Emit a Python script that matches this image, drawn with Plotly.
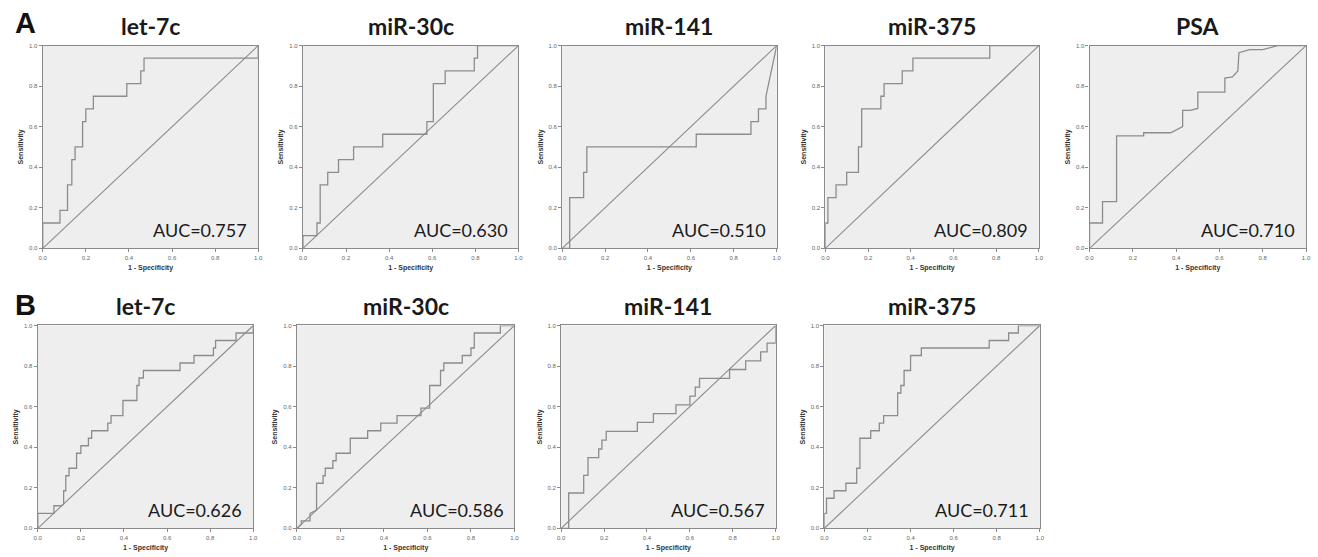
import plotly.graph_objects as go

# ---------------- data ----------------
panel_titles = ["let-7c", "miR-30c", "miR-141", "miR-375", "PSA",
                "let-7c", "miR-30c", "miR-141", "miR-375"]
auc_labels = ["AUC=0.757", "AUC=0.630", "AUC=0.510", "AUC=0.809", "AUC=0.710",
              "AUC=0.626", "AUC=0.586", "AUC=0.567", "AUC=0.711"]
row_letters = ["A", "B"]
tick_values = [0.0, 0.2, 0.4, 0.6, 0.8, 1.0]
tick_labels = ["0.0", "0.2", "0.4", "0.6", "0.8", "1.0"]
reference_line = [0.0, 1.0]

a_let7c_fpr = [0, 0, 0.08, 0.08, 0.115, 0.115, 0.135, 0.135, 0.15, 0.15, 0.185, 0.185,
               0.2, 0.2, 0.235, 0.235, 0.39, 0.39, 0.455, 0.455, 0.47, 0.47, 1.0, 1.0]
a_let7c_tpr = [0, 0.125, 0.125, 0.1875, 0.1875, 0.3125, 0.3125, 0.4375, 0.4375, 0.5, 0.5, 0.625,
               0.625, 0.6875, 0.6875, 0.75, 0.75, 0.8125, 0.8125, 0.875, 0.875, 0.9375, 0.9375, 1.0]

a_mir30c_fpr = [0, 0, 0.065, 0.065, 0.08, 0.08, 0.115, 0.115, 0.165, 0.165, 0.235, 0.235, 0.37,
                0.37, 0.575, 0.575, 0.605, 0.605, 0.66, 0.66, 0.795, 0.795, 0.81, 0.81, 1.0]
a_mir30c_tpr = [0, 0.0625, 0.0625, 0.125, 0.125, 0.3125, 0.3125, 0.375, 0.375, 0.4375, 0.4375, 0.5, 0.5,
                0.5625, 0.5625, 0.625, 0.625, 0.8125, 0.8125, 0.875, 0.875, 0.9375, 0.9375, 1.0, 1.0]

a_mir141_fpr = [0, 0.035, 0.035, 0.1, 0.1, 0.115, 0.115, 0.625, 0.625, 0.88, 0.88, 0.915, 0.915,
                0.95, 0.95, 1.0]
a_mir141_tpr = [0, 0, 0.25, 0.25, 0.375, 0.375, 0.5, 0.5, 0.5625, 0.5625, 0.625, 0.625, 0.6875,
                0.6875, 0.75, 1.0]

a_mir375_fpr = [0, 0, 0.012, 0.012, 0.05, 0.05, 0.1, 0.1, 0.155, 0.155, 0.17, 0.17, 0.26, 0.26,
                0.275, 0.275, 0.36, 0.36, 0.41, 0.41, 0.77, 0.77, 1.0]
a_mir375_tpr = [0, 0.125, 0.125, 0.25, 0.25, 0.3125, 0.3125, 0.375, 0.375, 0.5, 0.5, 0.6875, 0.6875,
                0.75, 0.75, 0.8125, 0.8125, 0.875, 0.875, 0.9375, 0.9375, 1.0, 1.0]

a_psa_fpr = [0, 0, 0.06, 0.06, 0.125, 0.125, 0.25, 0.25, 0.375, 0.43, 0.43, 0.465, 0.5, 0.5,
             0.625, 0.625, 0.66, 0.685, 0.69, 0.74, 0.8, 0.87, 1.0]
a_psa_tpr = [0, 0.125, 0.125, 0.23, 0.23, 0.555, 0.555, 0.57, 0.57, 0.6, 0.68, 0.68, 0.69, 0.77,
             0.77, 0.84, 0.845, 0.875, 0.965, 0.98, 0.98, 1.0, 1.0]

b_let7c_fpr = [0, 0, 0.075, 0.075, 0.11, 0.12, 0.12, 0.13, 0.13, 0.145, 0.145, 0.18, 0.18, 0.2, 0.2,
               0.235, 0.235, 0.25, 0.25, 0.325, 0.325, 0.34, 0.34, 0.395, 0.395, 0.46, 0.46, 0.47,
               0.47, 0.49, 0.49, 0.66, 0.66, 0.725, 0.725, 0.815, 0.815, 0.825, 0.825, 0.92, 0.92,
               1.0, 1.0]
b_let7c_tpr = [0, 0.074, 0.074, 0.111, 0.111, 0.12, 0.185, 0.185, 0.259, 0.259, 0.296, 0.296, 0.37,
               0.37, 0.407, 0.407, 0.444, 0.444, 0.481, 0.481, 0.519, 0.519, 0.556, 0.556, 0.63,
               0.63, 0.704, 0.704, 0.741, 0.741, 0.778, 0.778, 0.815, 0.815, 0.852, 0.852, 0.889,
               0.889, 0.926, 0.926, 0.963, 0.963, 1.0]

b_mir30c_fpr = [0, 0.02, 0.02, 0.06, 0.06, 0.09, 0.09, 0.12, 0.12, 0.13, 0.13, 0.165, 0.165, 0.18,
                0.18, 0.245, 0.245, 0.325, 0.325, 0.385, 0.385, 0.46, 0.46, 0.57, 0.57, 0.61, 0.61,
                0.66, 0.66, 0.675, 0.675, 0.76, 0.76, 0.8, 0.8, 0.815, 0.815, 0.935, 0.935, 1.0]
b_mir30c_tpr = [0, 0.02, 0.037, 0.037, 0.074, 0.09, 0.222, 0.222, 0.259, 0.259, 0.296, 0.296, 0.333,
                0.333, 0.37, 0.37, 0.444, 0.444, 0.481, 0.481, 0.519, 0.519, 0.556, 0.556, 0.593,
                0.593, 0.704, 0.704, 0.778, 0.778, 0.815, 0.815, 0.852, 0.852, 0.889, 0.889, 0.963,
                0.963, 1.0, 1.0]

b_mir141_fpr = [0, 0.035, 0.035, 0.105, 0.105, 0.125, 0.125, 0.175, 0.175, 0.19, 0.19, 0.21, 0.21,
                0.355, 0.355, 0.43, 0.43, 0.535, 0.535, 0.6, 0.6, 0.625, 0.625, 0.645, 0.645, 0.785,
                0.785, 0.86, 0.86, 0.93, 0.93, 0.96, 0.96, 1.0, 1.0]
b_mir141_tpr = [0, 0, 0.174, 0.174, 0.261, 0.261, 0.348, 0.348, 0.391, 0.391, 0.435, 0.435, 0.478,
                0.478, 0.522, 0.522, 0.565, 0.565, 0.609, 0.609, 0.652, 0.652, 0.696, 0.696, 0.739,
                0.739, 0.783, 0.783, 0.826, 0.826, 0.87, 0.87, 0.913, 0.913, 1.0]

b_mir375_fpr = [0, 0, 0.01, 0.01, 0.045, 0.045, 0.1, 0.1, 0.15, 0.15, 0.165, 0.165, 0.215, 0.215,
                0.255, 0.255, 0.275, 0.275, 0.34, 0.34, 0.355, 0.355, 0.37, 0.37, 0.4, 0.4, 0.45,
                0.45, 0.765, 0.765, 0.855, 0.855, 0.9, 0.9, 1.0]
b_mir375_tpr = [0, 0.074, 0.074, 0.148, 0.148, 0.185, 0.185, 0.222, 0.222, 0.296, 0.296, 0.444,
                0.444, 0.481, 0.481, 0.519, 0.519, 0.556, 0.556, 0.667, 0.667, 0.704, 0.704, 0.778,
                0.778, 0.852, 0.852, 0.889, 0.889, 0.926, 0.926, 0.963, 0.963, 1.0, 1.0]

curves = [
    (a_let7c_fpr, a_let7c_tpr), (a_mir30c_fpr, a_mir30c_tpr), (a_mir141_fpr, a_mir141_tpr),
    (a_mir375_fpr, a_mir375_tpr), (a_psa_fpr, a_psa_tpr),
    (b_let7c_fpr, b_let7c_tpr), (b_mir30c_fpr, b_mir30c_tpr), (b_mir141_fpr, b_mir141_tpr),
    (b_mir375_fpr, b_mir375_tpr),
]

# ---------------- layout (pixel boxes of each plot area) ----------------
W, H = 1318, 557
boxes = [  # left, right, top, bottom
    (39, 256, 43, 248), (301, 518, 43, 248), (562, 778, 43, 248), (827, 1042, 43, 248),
    (1093, 1311, 43, 248),
    (34, 251, 326, 531), (295, 514, 326, 531), (561, 777, 326, 531), (826, 1043, 326, 531),
]

def px(x):
    return x / W

def py(y):
    return 1 - y / H

LINE = "#8c8c8c"
FRAME = "#8a8a8a"
BG = "#eeeeee"

fig = go.Figure()
layout = dict(
    width=W, height=H, margin=dict(l=0, r=0, t=0, b=0),
    paper_bgcolor="white", plot_bgcolor=BG, showlegend=False,
)
annotations = []

for i, ((fpr, tpr), (l, r, t, b)) in enumerate(zip(curves, boxes)):
    n = "" if i == 0 else str(i + 1)
    xa, ya = "x" + n, "y" + n
    axis_common = dict(
        range=[0, 1], showgrid=False, zeroline=False, showline=True, mirror=True,
        linecolor=FRAME, linewidth=1.2, ticks="outside", ticklen=3, tickcolor=FRAME,
        tickvals=tick_values, ticktext=tick_labels,
        tickfont=dict(family="Liberation Sans", size=6, color="#666666"),
        fixedrange=True,
    )
    layout["xaxis" + n] = dict(
        axis_common, domain=[px(l), px(r)], anchor=ya,
        title=dict(text="<b>1 - Specificity</b>", standoff=5,
                   font=dict(family="Liberation Sans", size=7, color="#333333")),
    )
    layout["yaxis" + n] = dict(
        axis_common, domain=[py(b), py(t)], anchor=xa,
        title=dict(text="<b>Sensitivity</b>", standoff=4,
                   font=dict(family="Liberation Sans", size=7, color="#333333")),
    )
    # diagonal reference line
    fig.add_trace(go.Scatter(x=reference_line, y=reference_line, mode="lines",
                             line=dict(color=LINE, width=1.1), xaxis=xa, yaxis=ya,
                             cliponaxis=False, hoverinfo="skip"))
    fig.add_trace(go.Scatter(x=fpr, y=tpr, mode="lines",
                             line=dict(color=LINE, width=1.3), xaxis=xa, yaxis=ya,
                             cliponaxis=False))
    # panel title
    annotations.append(dict(
        text="<b>" + panel_titles[i] + "</b>", xref="paper", yref="paper",
        x=px((l + r) / 2), y=py(t - 4), xanchor="center", yanchor="bottom", showarrow=False,
        font=dict(family="Lato", size=23, color="#1a1a1a"),
    ))
    # AUC label
    annotations.append(dict(
        text=auc_labels[i], xref="paper", yref="paper",
        x=px(r - 9), y=py(b - 5), xanchor="right", yanchor="bottom", showarrow=False,
        font=dict(family="Lato", size=18, color="#1a1a1a"),
    ))

# row letters
for letter, ytop in zip(row_letters, [2, 287]):
    annotations.append(dict(
        text="<b>" + letter + "</b>", xref="paper", yref="paper",
        x=px(9), y=py(ytop), xanchor="left", yanchor="top", showarrow=False,
        font=dict(family="Liberation Sans", size=29, color="#111111"),
    ))

layout["annotations"] = annotations
fig.update_layout(**layout)
fig.write_html("out.html")
